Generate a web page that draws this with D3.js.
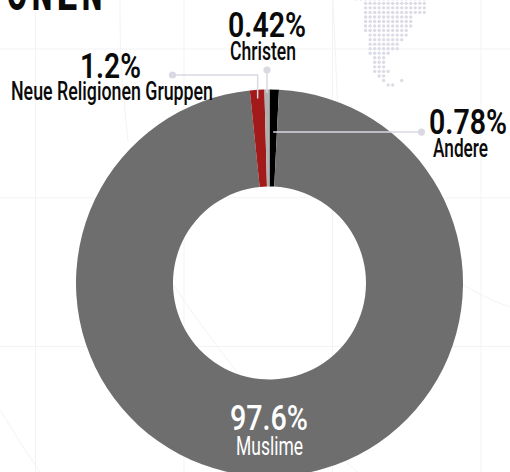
<!DOCTYPE html>
<html lang="de">
<head>
<meta charset="utf-8">
<title>Religionen</title>
<script src="https://cdn.jsdelivr.net/npm/d3@7/dist/d3.min.js"></script>
<style>
  html, body { margin: 0; padding: 0; background: #fff; overflow: hidden; }
  svg { display: block; }
  text { font-family: "Roboto", "Liberation Sans", sans-serif; }
</style>
</head>
<body>
<svg id="chart" width="510" height="472"></svg>
<script>
// Religious affiliation shares, clockwise from twelve o'clock
const categories = ["Andere", "Muslime", "Neue Religionen Gruppen", "Christen"];
const shares = [0.78, 97.6, 1.2, 0.42];
const shareLabels = ["0.78%", "97.6%", "1.2%", "0.42%"];
const sliceColors = ["#000000", "#6e6e6e", "#a31a1a", "#b0b0b0"];

// Backdrop grid
const gridColumns = [0, 1, 2, 3];
const gridRows = [0, 1, 2];

// Dotted world-map fragment: first and last dot column per row
const mapRows = [
  [-2, 13], [0, 13], [0, 13], [0, 13], [0, 10], [0, 10], [0, 10], [0, 9], [1, 9], [1, 8],
  [1, 7], [1, 7], [1, 5], [2, 4], [2, 4], [2, 4], [2, 5], [3, 4], [4, 4], [5, 6]
];
const mapIslands = [[18, 8]];

const headingLetters = ["O", "N", "E", "N"];

const svg = d3.select("#chart");
const width = 510, height = 472;
const cx = 269.5, cy = 283, outerR = 193.5, innerR = 96.5;

// Backdrop: faint grid and sweeping contour lines
const backdrop = svg.append("g").attr("fill", "none").attr("stroke", "#f3f3f5").attr("stroke-width", 1);
const gx = d3.scaleLinear().domain([0, 3]).range([35.5, 481]);
const gy = d3.scaleLinear().domain([0, 2]).range([49, 346.5]);
backdrop.selectAll("line.v").data(gridColumns).join("line").attr("class", "v")
  .attr("x1", d => gx(d)).attr("x2", d => gx(d)).attr("y1", 0).attr("y2", height);
backdrop.selectAll("line.h").data(gridRows).join("line").attr("class", "h")
  .attr("x1", 0).attr("x2", width).attr("y1", d => gy(d)).attr("y2", d => gy(d));

const contours = [
  [[120, 0], [121, 60], [128, 142]],
  [[333, 0], [335, 45], [338, 110]],
  [[0, 410], [20, 442], [40, 472]],
  [[172, 283], [205, 330], [240, 376]],
  [[463, 285], [490, 299], [510, 307]],
  [[347, 463], [352, 467], [358, 472]]
];
const contourLine = d3.line().curve(d3.curveCatmullRom);
backdrop.selectAll("path").data(contours).join("path").attr("d", contourLine);

// Dotted map
const mapX = d3.scaleLinear().domain([0, 13]).range([365.6, 424.3]);
const mapY = d3.scaleLinear().domain([0, 19]).range([-1.2, 85]);
const mapDots = mapRows.flatMap((r, row) => d3.range(r[0], r[1] + 1).map(col => [col, row]))
  .concat(mapIslands.map(([row, col]) => [col, row]));
svg.append("g").selectAll("circle").data(mapDots).join("circle")
  .attr("cx", d => mapX(d[0])).attr("cy", d => mapY(d[1]))
  .attr("r", 1.7).attr("fill", "#dcdce6");

// Cropped heading, one squeezed letter at a time
const headingX = d3.scaleBand().domain(d3.range(headingLetters.length)).range([7, 102]).paddingInner(0.2).paddingOuter(0);
svg.append("g").selectAll("text").data(headingLetters).join("text")
  .attr("x", (d, i) => headingX(i)).attr("y", 10)
  .attr("textLength", headingX.bandwidth()).attr("lengthAdjust", "spacingAndGlyphs")
  .attr("font-size", 44).attr("font-weight", 900).attr("fill", "#0a0a0a")
  .text(d => d);

// Donut
const pie = d3.pie().sort(null).value(d => d)(shares);
const arc = d3.arc().innerRadius(innerR).outerRadius(outerR);
const donut = svg.append("g").attr("transform", `translate(${cx},${cy})`);
donut.selectAll("path").data(pie).join("path")
  .attr("d", arc)
  .attr("fill", (d, i) => sliceColors[i]);

// Point on a slice's centre line at a given radius
function polar(slice, r) {
  const a = (slice.startAngle + slice.endAngle) / 2;
  return [cx + r * Math.sin(a), cy - r * Math.cos(a)];
}

// Leader lines with their round end caps
const leaderColor = "#d9d9e3";
const [andereSlice, , neueSlice, christenSlice] = pie;
const neueTip = polar(neueSlice, 185);
const christenTip = polar(christenSlice, 190);
const andereTip = polar(andereSlice, 151);
const leaders = [
  { points: [[172.5, 75], [neueTip[0], 75], neueTip] },
  { points: [[christenTip[0], 70], christenTip] },
  { points: [[421.5, andereTip[1]], andereTip] }
];
const leaderG = svg.append("g");
leaderG.selectAll("path").data(leaders).join("path")
  .attr("d", d => d3.line()(d.points))
  .attr("fill", "none").attr("stroke", leaderColor).attr("stroke-width", 1.5);
leaderG.selectAll("circle").data(leaders).join("circle")
  .attr("cx", d => d.points[0][0]).attr("cy", d => d.points[0][1])
  .attr("r", 3.6).attr("fill", leaderColor);

// Value and name labels, squeezed to the condensed display width
const labelBoxes = [
  { i: 3, vx: 228, vw: 78, vy: 37, nx: 230, nw: 66, ny: 60 },
  { i: 2, vx: 80, vw: 61, vy: 78, nx: 11, nw: 202, ny: 100 },
  { i: 0, vx: 429, vw: 78, vy: 134, nx: 433, nw: 55, ny: 157 },
  { i: 1, vx: 230, vw: 78, vy: 430, nx: 236, nw: 67, ny: 455, fill: "#ffffff" }
];
const labels = svg.append("g");
labelBoxes.forEach(b => {
  const fill = b.fill || "#0a0a0a";
  labels.append("text").attr("x", b.vx).attr("y", b.vy)
    .attr("textLength", b.vw).attr("lengthAdjust", "spacingAndGlyphs")
    .attr("font-size", 35).attr("font-weight", b.fill ? 500 : 600).attr("fill", fill)
    .text(shareLabels[b.i]);
  labels.append("text").attr("x", b.nx).attr("y", b.ny)
    .attr("textLength", b.nw).attr("lengthAdjust", "spacingAndGlyphs")
    .attr("font-size", 25).attr("font-weight", b.fill ? 400 : 500).attr("fill", fill)
    .text(categories[b.i]);
});
</script>
</body>
</html>
